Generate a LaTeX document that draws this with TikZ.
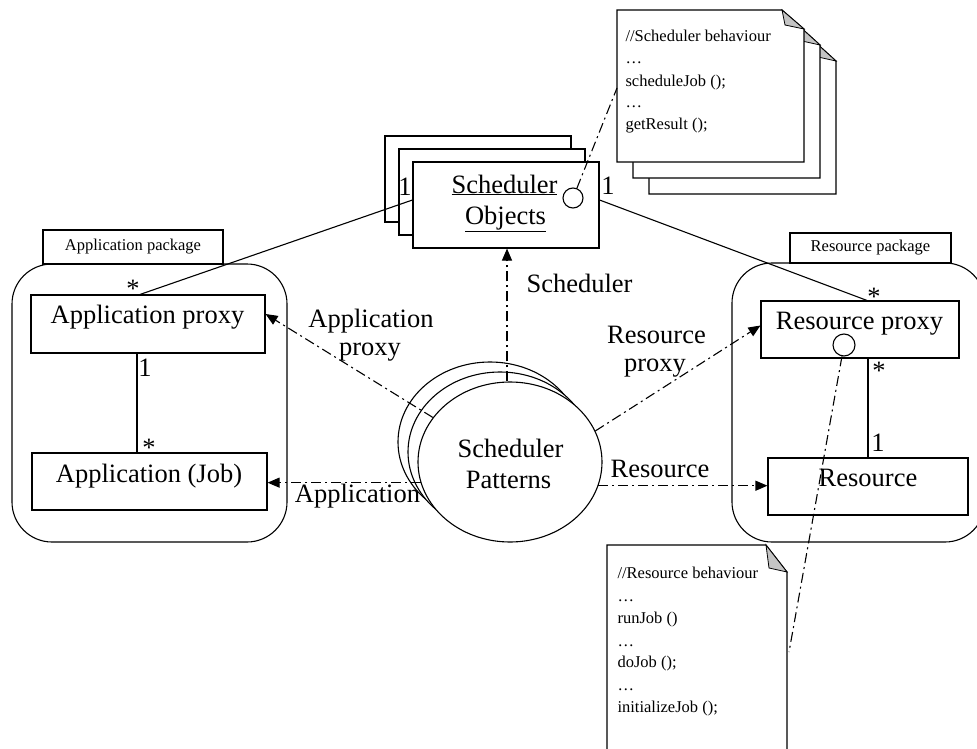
\documentclass[tikz,border=0pt]{standalone}
\usepackage{fontspec}
\setmainfont{Liberation Serif}
\usetikzlibrary{arrows.meta,shapes.geometric,calc}
\definecolor{foldgrey}{RGB}{196,196,196}
% memo sheet with a folded top-right corner: x1, y1, x2, y2, fold width, fold height
\newcommand{\drawmemo}[6]{%
  \filldraw[fill=white] (#1,#2) -- ({#3-#5},#2) -- (#3,{#2+#6}) -- (#3,#4) -- (#1,#4) -- cycle;
  \filldraw[fill=foldgrey,line width=0.8pt] ({#3-#5},#2) -- (#3,{#2+#6}) -- ({#3-#5+3},{#2+#6-4}) -- cycle;}
\begin{document}
\begin{tikzpicture}[x=1pt,y=-1pt,line width=1.1pt,
  box/.style={draw,fill=white,inner sep=0pt},
  pkg/.style={draw,rounded corners=40pt,inner sep=0pt},
  tab/.style={draw,fill=white,inner sep=0pt,font=\fontsize{16.5}{19}\selectfont},
  lbl/.style={font=\fontsize{26.5}{30}\selectfont,inner sep=0pt,anchor=base},
  code/.style={font=\fontsize{16.5}{19}\selectfont,inner sep=0pt,anchor=base west},
  dd/.style={dash pattern=on 10pt off 4pt on 2pt off 4pt},
  flow/.style={dd,-{Triangle[length=12pt,width=10pt]}},
  lolly/.style={draw,fill=white,circle,inner sep=0pt,minimum size=20pt},
  blob/.style={draw,fill=white,ellipse,inner sep=0pt,minimum width=184pt,minimum height=160pt}]

\useasboundingbox[fill=white] (0,0) rectangle (977,749);

% packages with their name tabs
\node[pkg,minimum width=275pt,minimum height=278pt] (apkg) at (149.5,403) {};
\node[tab,minimum width=180pt,minimum height=34pt] (apkgtab) at (133,247) {Application package};
\node[pkg,minimum width=253pt,minimum height=279pt] (rpkg) at (858.5,402.5) {};
\node[tab,minimum width=161pt,minimum height=30pt] (rpkgtab) at (870.5,248) {Resource package};

% classes inside the packages
\node[box,minimum width=234pt,minimum height=58pt] (aprox) at (148,324) {};
\node[box,minimum width=235pt,minimum height=57pt] (ajob) at (149.5,481.5) {};
\node[box,minimum width=198pt,minimum height=57pt] (rprox) at (860,329.5) {};
\node[box,minimum width=200pt,minimum height=57pt] (res) at (868,486.5) {};

% stack of scheduler objects
\node[box,minimum width=186pt,minimum height=86pt] (sobjC) at (478,179) {};
\node[box,minimum width=186pt,minimum height=86pt] (sobjB) at (492,192) {};
\node[box,minimum width=186pt,minimum height=86pt] (sobj) at (506,205) {};

% associations
\draw ([xshift=-8pt]aprox.north) -- ([yshift=5pt]sobj.west);
\draw ([yshift=5pt]sobj.east) -- ([xshift=7pt]rprox.north);
\draw ([xshift=-11pt]aprox.south) -- ([xshift=-11pt]aprox.south |- ajob.north);
\draw (res.north) -- (res.north |- rprox.south);

% stack of scheduler patterns
\node[blob] (patC) at (490,442) {};
\node[blob] (patB) at (500,452) {};
\node[blob] (pat) at (510,462) {};

% dependencies of the patterns
\draw[flow] ([xshift=-3pt]pat.north) -- ([xshift=-3pt]pat.north |- sobj.south);
\draw[flow] (pat.150) -- ([yshift=10pt]aprox.east);
\draw[flow] (pat.20) -- ([yshift=4pt]rprox.west);
\draw[flow] (pat.-15) -- (pat.-15 -| res.west);
\draw[flow] (pat.193) -- (pat.193 -| ajob.east);

% interfaces
\node[lolly] (lolS) at (573,198) {};
\node[lolly,minimum size=22pt] (lolR) at (844,345) {};

% behaviour notes
\drawmemo{649}{42}{836}{194}{21}{19}
\drawmemo{633}{26}{820}{178}{21}{19}
\drawmemo{617}{10}{804}{162}{22}{19}
\drawmemo{607}{545}{787}{760}{21}{27}
\coordinate (snoteA) at (617,88);
\coordinate (rnoteA) at (789,652);
\draw[dd] (lolS) -- (snoteA);
\draw[dd] (lolR) -- (rnoteA);

% class names
\node[lbl] (t-aprox) at (147.5,323) {Application proxy};
\node[lbl] (t-ajob) at (149,482) {Application (Job)};
\node[lbl] (t-rprox) at (859.5,329) {Resource proxy};
\node[lbl] (t-res) at (868,486) {Resource};
\node[lbl] (t-sobj1) at (504.5,193) {\underline{Scheduler}};
\node[lbl] (t-sobj2) at (505.5,224) {\underline{Objects}};
\node[lbl] (t-pat1) at (510.5,457) {Scheduler};
\node[lbl] (t-pat2) at (508.5,488) {Patterns};

% dependency labels
\node[lbl] (l-sched) at (579.5,292) {Scheduler};
\node[lbl] (l-aprox1) at (371,327) {Application};
\node[lbl] (l-aprox2) at (370,355) {proxy};
\node[lbl] (l-rprox1) at (656.5,343) {Resource};
\node[lbl] (l-rprox2) at (655,371) {proxy};
\node[lbl] (l-res) at (660,477) {Resource};
\node[lbl] (l-app) at (357.5,502) {Application};

% multiplicities
\node[lbl] (m1) at (133,297) {*};
\node[lbl] (m2) at (145,376.5) {1};
\node[lbl] (m3) at (149,456) {*};
\node[lbl] (m4) at (405,195.5) {1};
\node[lbl] (m5) at (608,194.5) {1};
\node[lbl] (m6) at (874,305) {*};
\node[lbl] (m7) at (879,379) {*};
\node[lbl] (m8) at (878,451.5) {1};

% note contents
\node[code] (s1) at (625,42) {//Scheduler behaviour};
\node[code] (s2) at (625,64) {\dots};
\node[code] (s3) at (625,87) {scheduleJob ();};
\node[code] (s4) at (625,108) {\dots};
\node[code] (s5) at (625,130) {getResult ();};
\node[code] (r1) at (617,578) {//Resource behaviour};
\node[code] (r2) at (617,601) {\dots};
\node[code] (r3) at (617,623) {runJob ()};
\node[code] (r4) at (617,646) {\dots};
\node[code] (r5) at (617,667) {doJob ();};
\node[code] (r6) at (617,690) {\dots};
\node[code] (r7) at (617,712) {initializeJob ();};
\end{tikzpicture}
\end{document}
